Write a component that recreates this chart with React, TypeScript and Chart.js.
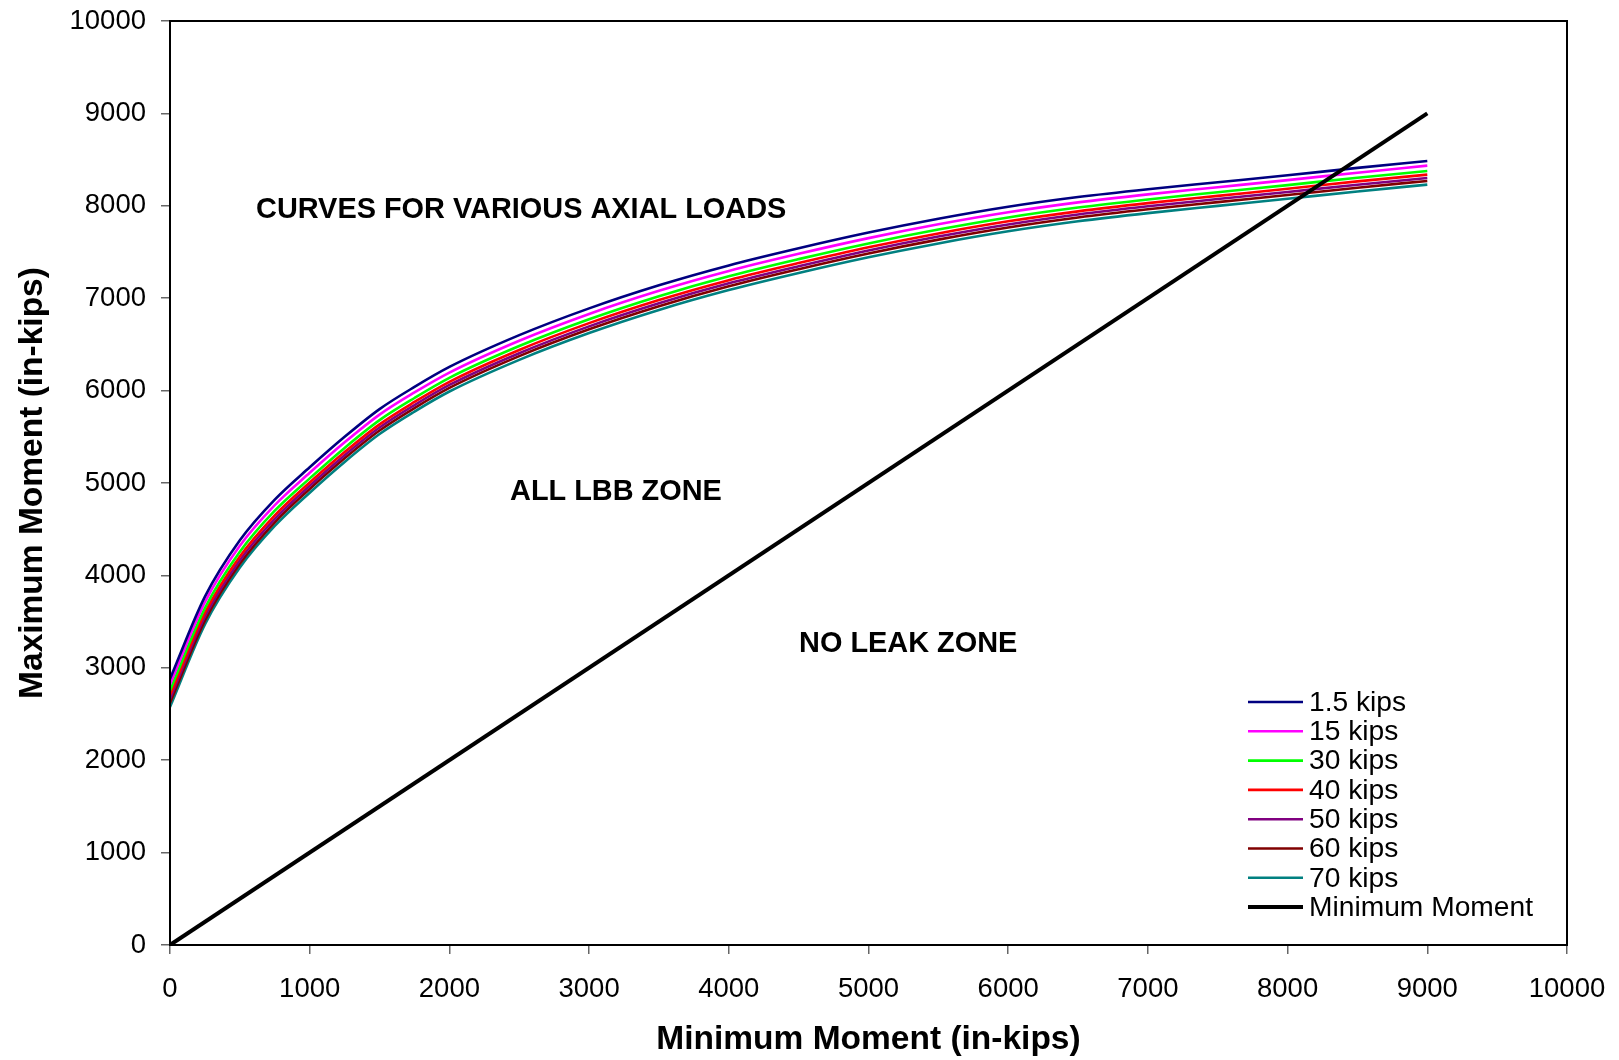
import React, { useEffect, useRef } from "react";
import { Chart, registerables } from "chart.js";

Chart.register(...registerables);

// Minimum moment (in-kips) at which the curves were sampled
const minMoment = [0, 250, 500, 750, 1000, 1250, 1500, 1750, 2000, 2500, 3000, 3500, 4000, 4500, 5000, 5500, 6000, 6500, 7000, 7500, 8000, 8500, 9000];

// Maximum moment (in-kips) for each axial load
const load1_5 = [2880, 3770, 4380, 4820, 5170, 5500, 5800, 6040, 6256, 6600, 6890, 7140, 7355, 7540, 7710, 7860, 7990, 8095, 8180, 8255, 8330, 8410, 8485];
const load15 = [2820, 3710, 4320, 4760, 5110, 5440, 5740, 5980, 6195, 6540, 6830, 7080, 7295, 7480, 7650, 7800, 7930, 8037, 8124, 8201, 8278, 8358, 8435];
const load30 = [2755, 3645, 4255, 4700, 5050, 5380, 5680, 5920, 6138, 6482, 6772, 7022, 7238, 7423, 7593, 7743, 7874, 7981, 8069, 8147, 8224, 8304, 8377];
const load40 = [2705, 3595, 4205, 4650, 5005, 5335, 5635, 5877, 6095, 6440, 6730, 6980, 7195, 7380, 7551, 7701, 7832, 7940, 8029, 8107, 8184, 8264, 8337];
const load50 = [2665, 3555, 4165, 4612, 4970, 5300, 5600, 5843, 6061, 6405, 6695, 6945, 7161, 7346, 7517, 7667, 7798, 7906, 7995, 8073, 8150, 8228, 8301];
const load60 = [2620, 3510, 4125, 4575, 4935, 5267, 5568, 5811, 6029, 6373, 6663, 6913, 7129, 7314, 7484, 7634, 7765, 7873, 7962, 8040, 8117, 8196, 8269];
const load70 = [2575, 3470, 4085, 4535, 4895, 5228, 5530, 5773, 5990, 6333, 6623, 6873, 7088, 7273, 7443, 7593, 7724, 7832, 7921, 7999, 8076, 8155, 8229];

const seriesLabels = ["1.5 kips", "15 kips", "30 kips", "40 kips", "50 kips", "60 kips", "70 kips"];
const seriesColors = ["#000080", "#FF00FF", "#00FF00", "#FF0000", "#800080", "#800000", "#008080"];

// Minimum moment reference line (max = min)
const diagonalX = [0, 9000];
const diagonalY = [0, 9000];
const diagonalLabel = "Minimum Moment";

const axisMin = 0;
const axisMax = 10000;
const axisStep = 1000;

const xTitle = "Minimum Moment (in-kips)";
const yTitle = "Maximum Moment (in-kips)";

const zoneTexts = ["CURVES FOR VARIOUS AXIAL LOADS", "ALL LBB ZONE", "NO LEAK ZONE"];
const zoneX = [616, 2434, 4503];
const zoneY = [7950, 4900, 3256];

const FONT = "'Liberation Sans', Arial, Helvetica, sans-serif";

const boxPlugin = {
  id: "plotBox",
  afterDraw(chart: any) {
    const { ctx, chartArea } = chart;
    ctx.save();
    ctx.strokeStyle = "#000";
    ctx.lineWidth = 2;
    ctx.strokeRect(chartArea.left, chartArea.top, chartArea.right - chartArea.left, chartArea.bottom - chartArea.top);
    ctx.restore();
  },
};

const zonePlugin = {
  id: "zoneText",
  afterDatasetsDraw(chart: any) {
    const { ctx, scales } = chart;
    ctx.save();
    ctx.font = `bold 28.9px ${FONT}`;
    ctx.fillStyle = "#000";
    ctx.textAlign = "left";
    ctx.textBaseline = "middle";
    zoneTexts.forEach((t, i) => {
      ctx.fillText(t, scales.x.getPixelForValue(zoneX[i]), scales.y.getPixelForValue(zoneY[i]));
    });
    ctx.restore();
  },
};

const legendPlugin = {
  id: "customLegend",
  afterDraw(chart: any) {
    const { ctx, chartArea } = chart;
    const x0 = chartArea.right - 319;
    const y0 = chartArea.bottom - 243;
    const step = 29.3;
    ctx.save();
    ctx.font = `28.2px ${FONT}`;
    ctx.textBaseline = "middle";
    ctx.textAlign = "left";
    ctx.fillStyle = "#000";
    chart.data.datasets.forEach((ds: any, i: number) => {
      const y = y0 + i * step;
      ctx.strokeStyle = ds.borderColor;
      ctx.lineWidth = ds.borderWidth;
      ctx.lineCap = "butt";
      ctx.beginPath();
      ctx.moveTo(x0, y);
      ctx.lineTo(x0 + 55, y);
      ctx.stroke();
      ctx.fillText(ds.label, x0 + 61, y + 1);
    });
    ctx.restore();
  },
};

export default function App() {
  const ref = useRef<HTMLCanvasElement>(null);

  useEffect(() => {
    document.body.style.margin = "0";
    const canvas = ref.current;
    if (!canvas) return;
    const series = [load1_5, load15, load30, load40, load50, load60, load70];
    const datasets: any[] = series.map((ys, i) => ({
      label: seriesLabels[i],
      data: minMoment.map((x, j) => ({ x, y: ys[j] })),
      borderColor: seriesColors[i],
      backgroundColor: seriesColors[i],
      borderWidth: 2.6,
      pointRadius: 0,
      showLine: true,
      cubicInterpolationMode: "monotone",
    }));
    datasets.push({
      label: diagonalLabel,
      data: diagonalX.map((x, j) => ({ x, y: diagonalY[j] })),
      borderColor: "#000000",
      backgroundColor: "#000000",
      borderWidth: 4,
      pointRadius: 0,
      showLine: true,
      order: -1,
    });

    const tickFont = { family: FONT, size: 27.5 };
    const titleFont = { family: FONT, size: 33.5, weight: "bold" as const, lineHeight: 1.1 };
    const plain = (v: any) => String(v);

    const chart = new Chart(canvas, {
      type: "scatter",
      data: { datasets },
      options: {
        responsive: false,
        animation: false,
        layout: { padding: { left: 0, top: 21, right: 52, bottom: 0 } },
        plugins: { legend: { display: false }, tooltip: { enabled: false } },
        scales: {
          x: {
            type: "linear",
            min: axisMin,
            max: axisMax,
            ticks: { stepSize: axisStep, font: tickFont, color: "#000", padding: 19, maxRotation: 0, callback: plain },
            grid: { display: true, drawOnChartArea: false, drawTicks: true, tickLength: 9, color: "#666", lineWidth: 1.5 },
            border: { display: true, color: "#000", width: 2 },
            title: { display: true, text: xTitle, font: titleFont, color: "#000", padding: { top: 0, bottom: 1.5 } },
            afterFit: (s: any) => {
              s.height = 115;
              s.paddingLeft = 0;
              s.paddingRight = 0;
            },
          },
          y: {
            type: "linear",
            min: axisMin,
            max: axisMax,
            ticks: { stepSize: axisStep, font: tickFont, color: "#000", padding: 15, callback: plain },
            grid: { display: true, drawOnChartArea: false, drawTicks: true, tickLength: 9, color: "#666", lineWidth: 1.5 },
            border: { display: true, color: "#000", width: 2 },
            title: { display: true, text: yTitle, font: titleFont, color: "#000", padding: { top: 14, bottom: 0 } },
            afterFit: (s: any) => {
              s.width = 170;
              s.paddingTop = 0;
              s.paddingBottom = 0;
            },
          },
        },
      },
      plugins: [boxPlugin, zonePlugin, legendPlugin],
    });
    return () => chart.destroy();
  }, []);

  return (
    <div style={{ position: "fixed", left: 0, top: 0, width: 1619, height: 1060, background: "#fff" }}>
      <canvas ref={ref} width={1619} height={1060} style={{ width: 1619, height: 1060, display: "block" }} />
    </div>
  );
}
